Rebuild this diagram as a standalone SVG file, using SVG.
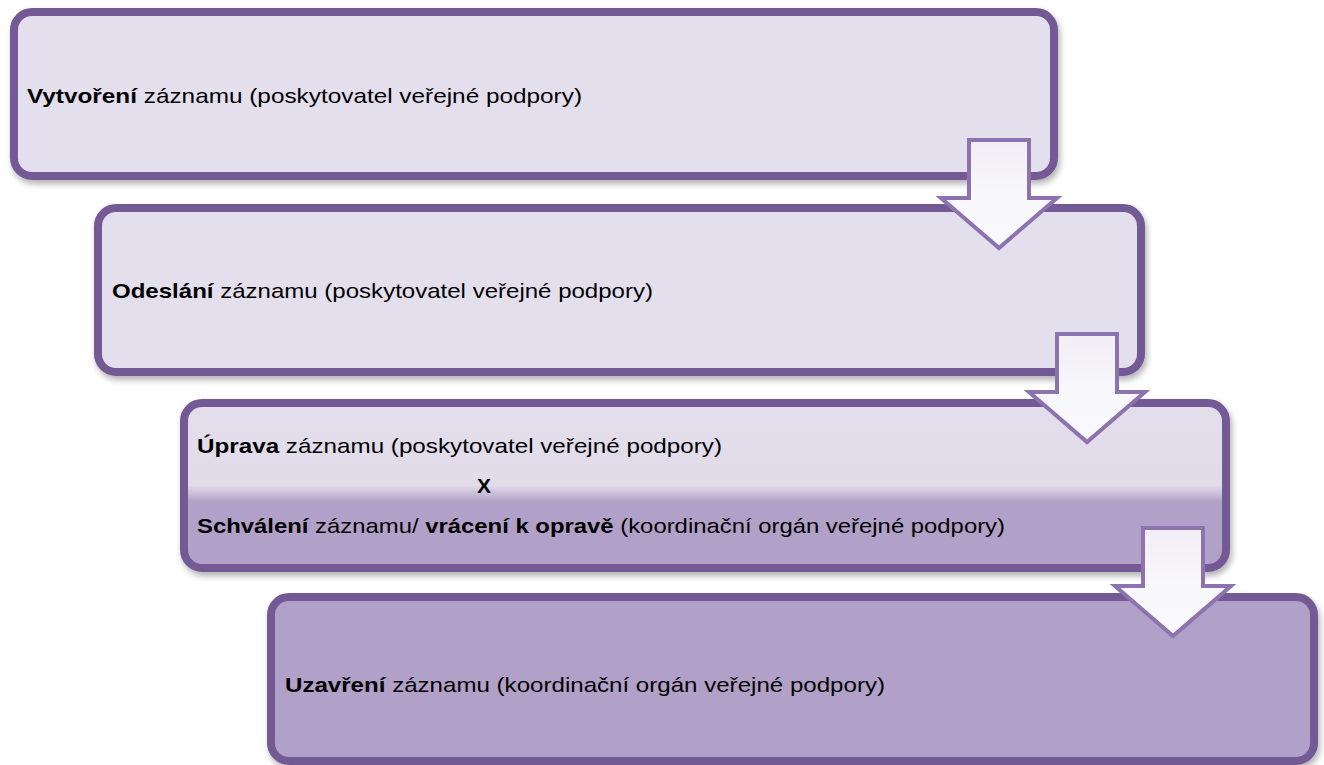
<svg xmlns="http://www.w3.org/2000/svg" width="1324" height="765" viewBox="0 0 1324 765">
<defs>
<filter id="sh" x="-5%" y="-10%" width="110%" height="125%">
<feDropShadow dx="2" dy="4" stdDeviation="3" flood-color="#000" flood-opacity="0.3"/>
</filter>
<linearGradient id="g3" x1="0" y1="0" x2="0" y2="1">
<stop offset="0" stop-color="#E4DEEC"/>
<stop offset="0.5" stop-color="#E2DBEA"/>
<stop offset="0.6" stop-color="#B1A0C7"/>
<stop offset="1" stop-color="#B1A0C7"/>
</linearGradient>
<linearGradient id="ga" x1="0" y1="0" x2="0" y2="1">
<stop offset="0" stop-color="#F1EEF5"/>
<stop offset="0.5" stop-color="#F8F7FB"/>
<stop offset="1" stop-color="#FAF9FC"/>
</linearGradient>
<path id="arr" d="M-30,0 H30 V58 H58 L0,108 L-58,58 H-30 Z"/>
</defs>
<style>
.box{stroke:#735A95;stroke-width:8;filter:url(#sh)}
.light{fill:#E4DFEC}
.dark{fill:#B1A0C7}
.arrow{fill:url(#ga);stroke:#8D72B0;stroke-width:4;stroke-linejoin:miter}
text{font-family:"Liberation Sans",Arial,sans-serif;font-size:21px;fill:#000}
.b{font-weight:bold}
</style>
<rect width="1324" height="765" fill="#fff"/>
<g id="node1">
<rect class="box light" x="14" y="12" width="1040" height="164" rx="18"/>
<text x="27" y="103" textLength="555" lengthAdjust="spacingAndGlyphs"><tspan class="b">Vytvoření</tspan> záznamu (poskytovatel veřejné podpory)</text>
</g>
<g id="node2">
<rect class="box light" x="98" y="208" width="1043" height="164" rx="18"/>
<text x="112" y="298" textLength="541" lengthAdjust="spacingAndGlyphs"><tspan class="b">Odeslání</tspan> záznamu (poskytovatel veřejné podpory)</text>
</g>
<g id="node3">
<rect class="box" fill="url(#g3)" x="184" y="403" width="1042" height="165" rx="18"/>
<text x="197" y="453" textLength="525" lengthAdjust="spacingAndGlyphs"><tspan class="b">Úprava</tspan> záznamu (poskytovatel veřejné podpory)</text>
<text class="b" x="477" y="493">X</text>
<text x="197" y="533" textLength="808" lengthAdjust="spacingAndGlyphs"><tspan class="b">Schválení</tspan> záznamu/ <tspan class="b">vrácení k opravě</tspan> (koordinační orgán veřejné podpory)</text>
</g>
<g id="node4">
<rect class="box dark" x="271" y="597" width="1043" height="164" rx="18"/>
<text x="285" y="692" textLength="600" lengthAdjust="spacingAndGlyphs"><tspan class="b">Uzavření</tspan> záznamu (koordinační orgán veřejné podpory)</text>
</g>
<g id="connectors">
<use href="#arr" class="arrow" transform="translate(999,140)"/>
<use href="#arr" class="arrow" transform="translate(1087,334)"/>
<use href="#arr" class="arrow" transform="translate(1173,528)"/>
</g>
</svg>
